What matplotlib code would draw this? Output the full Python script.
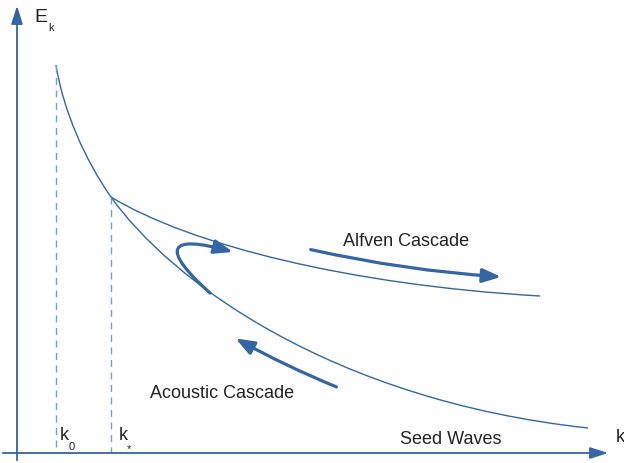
import matplotlib.pyplot as plt
from matplotlib.path import Path
from matplotlib.patches import PathPatch, FancyArrowPatch

# schematic, in picture pixels (x right, y down)
k0 = 56
kstar = 111
E_top = 65
E_knee = 197
k_end_ac = 588
E_end_ac = 428
k_end_alf = 540
E_end_alf = 296

# bezier control points for the curves
steep_ctrl = [(63, 110), (85, 160)]
acoustic_ctrl = [(170, 280), (330, 400)]
alfven_ctrl = [(190, 245), (350, 285)]

alf_arrow = [(308, 249), (504, 277)]
ac_arrow = [(339, 388), (233, 337)]
hook_pts = [(210, 293), (160, 248), (168, 234), (233, 252)]

labels = ["Alfven Cascade", "Acoustic Cascade", "Seed Waves"]
label_pos = [(406, 242), (222, 393), (451, 439)]

blue = "#3465a4"
light = "#729fcf"

fig = plt.figure(figsize=(6.24, 4.63), dpi=100)
ax = fig.add_axes([0, 0, 1, 1])
ax.set_xlim(0, 624)
ax.set_ylim(463, 0)
ax.axis("off")

C4 = Path.CURVE4
# steep branch + acoustic branch
verts = [(k0, E_top)] + steep_ctrl + [(kstar, E_knee)] + acoustic_ctrl + [(k_end_ac, E_end_ac)]
codes = [Path.MOVETO, C4, C4, C4, C4, C4, C4]
ax.add_patch(PathPatch(Path(verts, codes), fill=False, ec=blue, lw=1.0))
# alfven branch
verts = [(kstar, E_knee)] + alfven_ctrl + [(k_end_alf, E_end_alf)]
ax.add_patch(PathPatch(Path(verts, [Path.MOVETO, C4, C4, C4]), fill=False, ec=blue, lw=1.0))

# dashed guides
ax.plot([k0, k0], [E_top, 453], color=light, lw=1, ls=(0, (5, 4)))
ax.plot([kstar, kstar], [E_knee, 453], color=light, lw=1, ls=(0, (5, 4)))

# axes with arrows
ax.annotate("", xy=(17, 3), xytext=(17, 463),
            arrowprops=dict(arrowstyle="-|>,head_length=1.1,head_width=0.35", color=blue, lw=1.3))
ax.annotate("", xy=(611, 453), xytext=(0, 453),
            arrowprops=dict(arrowstyle="-|>,head_length=1.1,head_width=0.35", color=blue, lw=1.3))

sty = "-|>,head_length=0.8,head_width=0.3"
ax.add_patch(FancyArrowPatch(alf_arrow[0], alf_arrow[1], connectionstyle="arc3,rad=0.04",
                             arrowstyle=sty, color=blue, lw=2.3, mutation_scale=14))
ax.add_patch(FancyArrowPatch(ac_arrow[0], ac_arrow[1], connectionstyle="arc3,rad=-0.03",
                             arrowstyle=sty, color=blue, lw=2.3, mutation_scale=14))
hook = Path(hook_pts, [Path.MOVETO, C4, C4, C4])
ax.add_patch(FancyArrowPatch(path=hook, arrowstyle=sty, color=blue, lw=2.3, mutation_scale=14))

font = "Liberation Sans"
for t, (x, y) in zip(labels, label_pos):
    ax.text(x, y, t, ha="center", va="center", fontsize=13, color="#222222", family=font)

ax.text(34, 17, "E", ha="left", va="center", fontsize=14, color="#222222", family=font)
ax.text(48, 28, "k", ha="left", va="center", fontsize=8, color="#222222", family=font)
ax.text(60, 436, "k", ha="left", va="center", fontsize=13, color="#222222", family=font)
ax.text(69, 447, "0", ha="left", va="center", fontsize=8, color="#222222", family=font)
ax.text(119, 436, "k", ha="left", va="center", fontsize=13, color="#222222", family=font)
ax.text(127, 449, "*", ha="left", va="center", fontsize=8, color="#222222", family=font)
ax.text(616, 437, "k", ha="left", va="center", fontsize=13, color="#222222", family=font)

fig.savefig("out.png", dpi=100)
